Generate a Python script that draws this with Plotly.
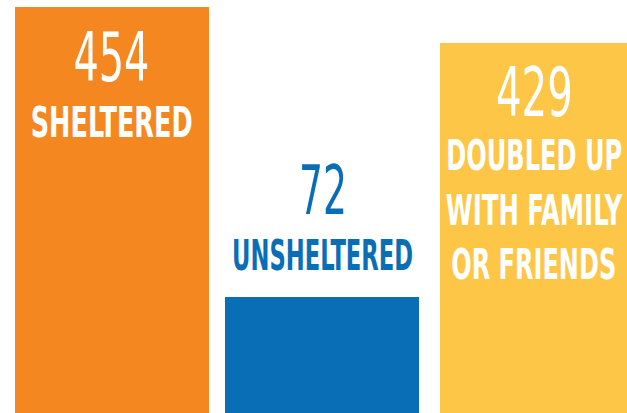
import json
import plotly.graph_objects as go

# ---- data read from the graphic ----
categories = ["Sheltered", "Unsheltered", "Doubled up with family or friends"]
counts = [454, 72, 429]
# drawn bar lengths as they appear in the infographic (same units as counts)
bar_lengths = [454, 130, 414]
label_lines = [["SHELTERED"], ["UNSHELTERED"], ["DOUBLED UP", "WITH FAMILY", "OR FRIENDS"]]
colors = ["#F58720", "#0A6EB7", "#FDC647"]
text_colors = ["#FFFFFF", "#0A6EB7", "#FFFFFF"]

W, H = 627, 413
xpos = list(range(len(categories)))
px_per_unit = 212.5
bar_width = 194 / px_per_unit
bar_offset = [-bar_width / 2, -bar_width / 2 - 2.5 / px_per_unit, -bar_width / 2]

fig = go.Figure()
fig.add_trace(go.Bar(
    x=xpos, y=bar_lengths, width=bar_width, offset=bar_offset,
    marker=dict(color=colors, line=dict(width=0)),
    hovertext=[f"{c}: {n}" for c, n in zip(categories, counts)],
    hoverinfo="text",
))

# text layout (pixel centers of cap-height, converted to paper coords)
num_y = [57, 191, 92]
num_w = [76, 48, 77]
label_y = [[122], [255], [155, 210, 264]]
label_w = [[162], [181], [176, 177, 165]]
x_shift = [-1, -2, -3]

FONT = "Liberation Sans Narrow, DejaVu Sans Condensed, Liberation Sans, sans-serif"
annotations = []
fit_widths = []
for i in xpos:
    annotations.append(dict(
        x=i, y=1 - num_y[i] / H, xref="x", yref="paper",
        text=str(counts[i]), showarrow=False, xanchor="center", yanchor="middle",
        xshift=x_shift[i],
        font=dict(family=FONT, size=68, color=text_colors[i]),
    ))
    fit_widths.append(num_w[i])
    for line, ly, lw in zip(label_lines[i], label_y[i], label_w[i]):
        annotations.append(dict(
            x=i, y=1 - ly / H, xref="x", yref="paper",
            text=f"<b>{line}</b>", showarrow=False, xanchor="center", yanchor="middle",
            xshift=x_shift[i],
            font=dict(family=FONT, size=43, color=text_colors[i]),
        ))
        fit_widths.append(lw)

fig.update_layout(
    width=W, height=H,
    margin=dict(l=0, r=0, t=0, b=0),
    paper_bgcolor="white", plot_bgcolor="white",
    showlegend=False,
    bargap=0,
    xaxis=dict(range=[-112 / px_per_unit, -112 / px_per_unit + W / px_per_unit],
               visible=False, fixedrange=True),
    yaxis=dict(range=[0, 454 * H / 406], visible=False, fixedrange=True),
    annotations=annotations,
)

# condense the annotation text horizontally (the original uses a condensed face)
post = """
document.body.style.margin='0';
var fitW = %s;
var gd = document.getElementsByClassName('plotly-graph-div')[0];
gd.querySelectorAll('.annotation-text').forEach(function(t, k){
  var b = t.getBBox(); var cx = b.x + b.width/2;
  var s = Math.min(1, fitW[k] / b.width);
  t.setAttribute('transform','translate('+cx+',0) scale('+s+',1) translate('+(-cx)+',0)');
});
""" % json.dumps(fit_widths)
fig.write_html("out.html", post_script=post, config={"displayModeBar": False})
